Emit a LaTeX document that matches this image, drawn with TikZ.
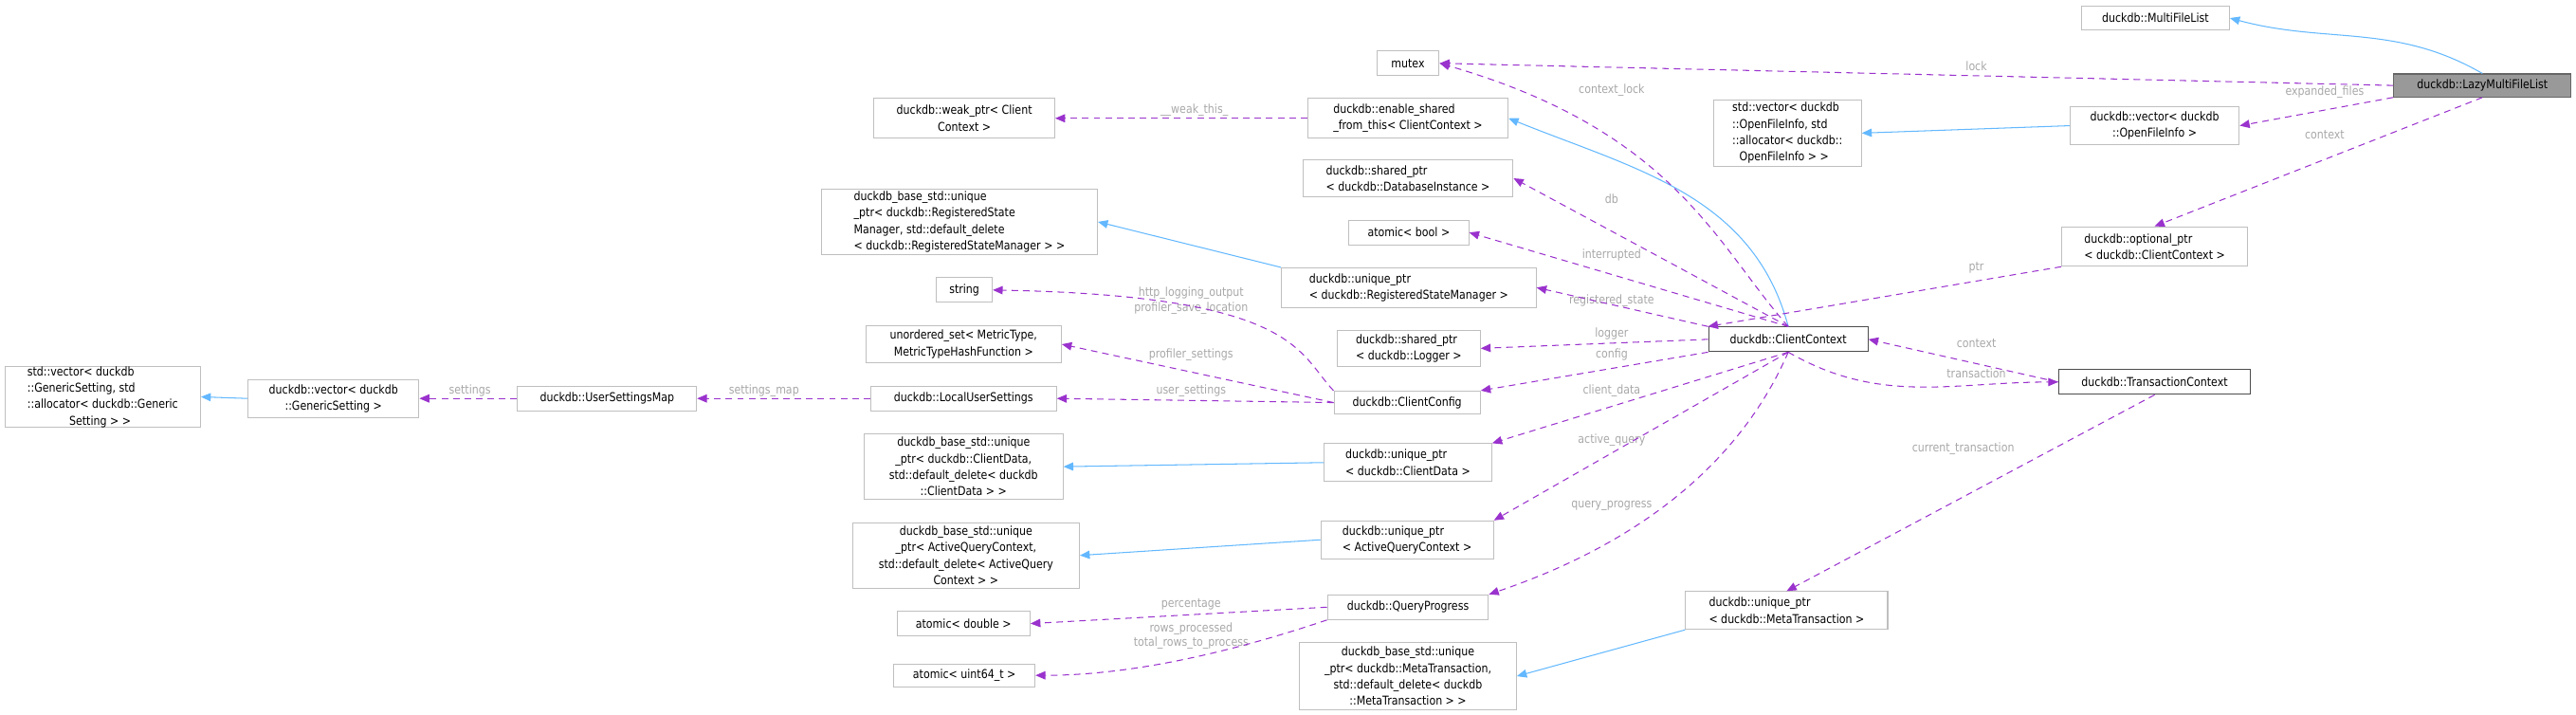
\documentclass[tikz,border=0pt]{standalone}
\usepackage{fontspec}
\setmainfont{DejaVu Sans}[FakeStretch=0.86]
\usetikzlibrary{arrows.meta}
\definecolor{pu}{HTML}{9A32CD}
\definecolor{bl}{HTML}{63B8FF}
\definecolor{lb}{HTML}{A8A8A8}
\definecolor{bd}{HTML}{BFBFBF}
\tikzset{
  box/.style={draw=bd,line width=0.6pt,fill=white,inner sep=0pt,align=left,font=\fontsize{7.4}{10}\selectfont},
  dep/.style={draw=pu,dashed,dash pattern=on 4pt off 3pt,line width=0.6pt,-{Triangle[length=6pt,width=5pt]}},
  inh/.style={draw=bl,line width=0.6pt,-{Triangle[length=6pt,width=5pt]}},
  lab/.style={text=lb,font=\fontsize{7.4}{9}\selectfont,align=center,inner sep=0pt},
}
\newcommand\bx[6][]{\node[box,#1,minimum width={(#4-#2)*1pt},minimum height={(#5-#3)*1pt}] (#6) at ({(#2+#4)/2},{(#3+#5)/2})}
\newcommand\lb[4]{\node[lab] (#1) at (#2,#3) {#4};}
\begin{document}
\begin{tikzpicture}[x=1pt,y=-1pt]
\useasboundingbox (0,0) rectangle (1568,434.6);
\bx{1267}{4}{1357}{18}{mfl}{duckdb::MultiFileList};
\bx[fill=black!40,draw=black!60]{1457}{45}{1565}{59}{lazy}{duckdb::LazyMultiFileList};
\bx{838}{31}{876}{46}{mutex}{mutex};
\bx[align=center]{532}{60}{642}{84}{weak}{duckdb::weak\_ptr< Client\\Context >};
\bx{796}{60}{918}{84}{ensh}{duckdb::enable\_shared\\\_from\_this< ClientContext >};
\bx{1043}{61}{1133}{101}{stdvof}{std::vector< duckdb\\::OpenFileInfo, std\\::allocator< duckdb::\\\hphantom{::}OpenFileInfo > >};
\bx[align=center]{1260}{65}{1363}{88}{vof}{duckdb::vector< duckdb\\::OpenFileInfo >};
\bx{793}{97}{921}{120}{dbi}{duckdb::shared\_ptr\\< duckdb::DatabaseInstance >};
\bx{500}{115}{668}{155}{brsm}{duckdb\_base\_std::unique\\\_ptr< duckdb::RegisteredState\\Manager, std::default\_delete\\< duckdb::RegisteredStateManager > >};
\bx{821}{134}{894}{149}{abool}{atomic< bool >};
\bx{1255}{138}{1368}{162}{opt}{duckdb::optional\_ptr\\< duckdb::ClientContext >};
\bx{570}{169}{604}{184}{str}{string};
\bx{780}{163}{935}{187}{ursm}{duckdb::unique\_ptr\\< duckdb::RegisteredStateManager >};
\bx[align=center]{527}{198}{646}{221}{uset}{unordered\_set< MetricType,\\MetricTypeHashFunction >};
\bx{814}{201}{901}{223}{logger}{duckdb::shared\_ptr\\< duckdb::Logger >};
\bx[draw=black!70]{1040}{199}{1137}{214}{cc}{duckdb::ClientContext};
\bx{3}{223}{122}{260}{stdvgs}{std::vector< duckdb\\::GenericSetting, std\\::allocator< duckdb::Generic\\\hphantom{::allocat}Setting > >};
\bx[draw=black!70]{1253}{225}{1370}{240}{tc}{duckdb::TransactionContext};
\bx[align=center]{151}{231}{255}{254}{vgs}{duckdb::vector< duckdb\\::GenericSetting >};
\bx{315}{235}{424}{250}{usm}{duckdb::UserSettingsMap};
\bx{530}{235}{643}{250}{lus}{duckdb::LocalUserSettings};
\bx{812}{238}{901}{252}{ccfg}{duckdb::ClientConfig};
\bx[align=center]{526}{264}{647}{304}{bcd}{duckdb\_base\_std::unique\\\_ptr< duckdb::ClientData,\\std::default\_delete< duckdb\\::ClientData > >};
\bx{806}{270}{908}{293}{ucd}{duckdb::unique\_ptr\\< duckdb::ClientData >};
\bx[align=center]{519}{318}{657}{358}{baq}{duckdb\_base\_std::unique\\\_ptr< ActiveQueryContext,\\std::default\_delete< ActiveQuery\\Context > >};
\bx{804}{317}{909}{340}{uaq}{duckdb::unique\_ptr\\< ActiveQueryContext >};
\bx{808}{362}{906}{377}{qp}{duckdb::QueryProgress};
\bx{546}{372}{627}{387}{adbl}{atomic< double >};
\bx{1026}{360}{1149}{383}{umt}{duckdb::unique\_ptr\\< duckdb::MetaTransaction >};
\bx{544}{404}{630}{418}{au64}{atomic< uint64\_t >};
\bx[align=center]{791}{391}{923}{432}{bmt}{duckdb\_base\_std::unique\\\_ptr< duckdb::MetaTransaction,\\std::default\_delete< duckdb\\::MetaTransaction > >};

% labels
\lb{l1}{1203}{40}{lock}
\lb{l2}{1415}{56}{expanded\_files}
\lb{l3}{1415}{82}{context}
\lb{l4}{1203}{163}{ptr}
\lb{l5}{1203}{209}{context}
\lb{l6}{1203}{227}{transaction}
\lb{l7}{1195}{273}{current\_transaction}
\lb{l8}{981}{55}{context\_lock}
\lb{l9}{981}{121}{db}
\lb{l10}{981}{155}{interrupted}
\lb{l11}{981}{183}{registered\_state}
\lb{l12}{981}{203}{logger}
\lb{l13}{981}{216}{config}
\lb{l14}{981}{238}{client\_data}
\lb{l15}{981}{268}{active\_query}
\lb{l16}{981}{308}{query\_progress}
\lb{l17}{727}{67}{\_\_weak\_this\_}
\lb{l18}{725}{183}{http\_logging\_output\\profiler\_save\_location}
\lb{l19}{725}{216}{profiler\_settings}
\lb{l20}{725}{238}{user\_settings}
\lb{l21}{465}{238}{settings\_map}
\lb{l22}{286}{238}{settings}
\lb{l23}{725}{368}{percentage}
\lb{l24}{725}{387}{rows\_processed\\total\_rows\_to\_process}

% inheritance
\draw[inh] (lazy.north) to[out=150,in=-15] (mfl.east);
\draw[inh] (vof.west) -- (stdvof.east);
\draw[inh] (cc.north) to[out=105,in=-22] (ensh.east);
\draw[inh] (ursm.north west) -- (brsm.east);
\draw[inh] (vgs.west) -- (stdvgs.east);
\draw[inh] (ucd.west) -- (bcd.east);
\draw[inh] (uaq.west) -- (baq.east);
\draw[inh] (umt.south west) -- (bmt.east);

% dependencies
\draw[dep] (lazy.west) -- (mutex.east);
\draw[dep] (lazy.south west) -- (vof.east);
\draw[dep] (lazy.south) -- (opt.north);
\draw[dep] (opt.south west) -- (cc.north west);
\draw[dep] (tc.west) -- (cc.east);
\draw[dep] (cc.south) to[out=-30,in=180] (tc.west);
\draw[dep] (tc.south) -- (umt.north);
\draw[dep] (cc.north) .. controls (1045,150) and (1020,80) .. (mutex.east);
\draw[dep] (ensh.west) -- (weak.east);
\draw[dep] (cc.north) -- (dbi.east);
\draw[dep] (cc.north) -- (abool.east);
\draw[dep] (cc.north west) -- (ursm.east);
\draw[dep] (cc.west) -- (logger.east);
\draw[dep] (cc.south west) -- (ccfg.north east);
\draw[dep] (ccfg.west) -- (lus.east);
\draw[dep] (lus.west) -- (usm.east);
\draw[dep] (usm.west) -- (vgs.east);
\draw[dep] (ccfg.north west) .. controls (790,215) and (790,180) .. (str.east);
\draw[dep] (ccfg.west) -- (uset.east);
\draw[dep] (cc.south) -- (ucd.north east);
\draw[dep] (cc.south) -- (uaq.north east);
\draw[dep] (cc.south) .. controls (1060,280) and (1000,330) .. (qp.north east);
\draw[dep] (qp.west) -- (adbl.east);
\draw[dep] (qp.south west) .. controls (770,390) and (700,411) .. (au64.east);
\end{tikzpicture}
\end{document}
